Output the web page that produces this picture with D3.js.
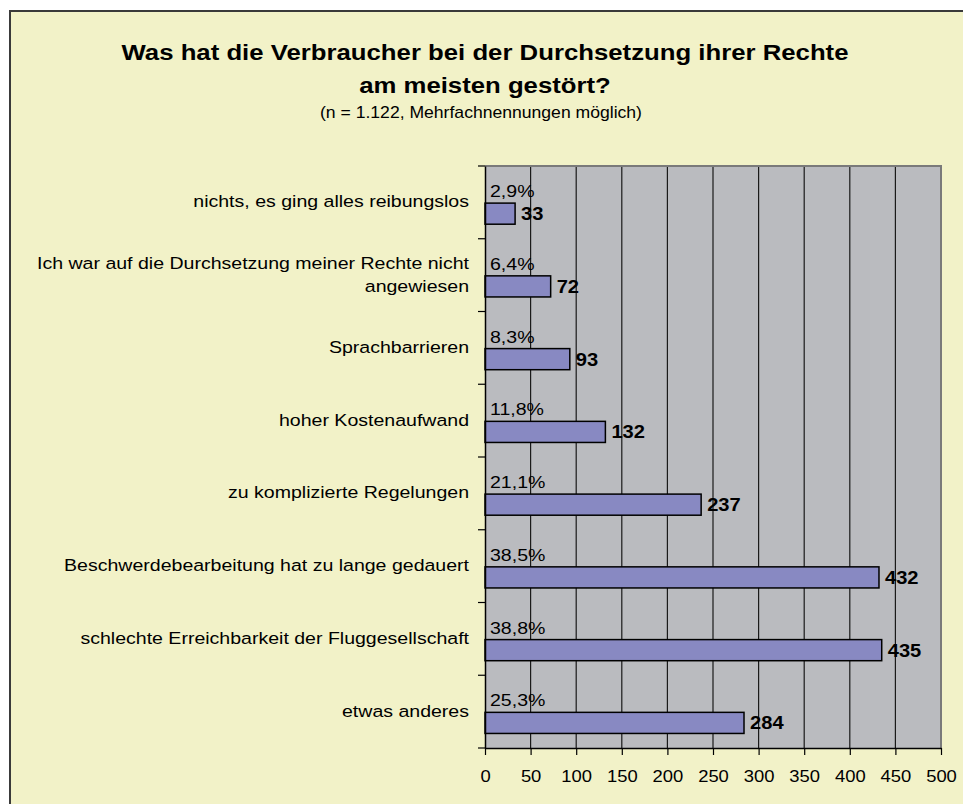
<!DOCTYPE html>
<html>
<head>
<meta charset="utf-8">
<script src="https://cdn.jsdelivr.net/npm/d3@7"></script>
<style>
  html, body { margin: 0; padding: 0; background: #ffffff; }
  svg text { font-family: "Liberation Sans", Arial, sans-serif; fill: #000; }
</style>
</head>
<body>
<svg id="chart" width="963" height="804"></svg>
<script>
// ---- data ----
const categories = [
  ["nichts, es ging alles reibungslos"],
  ["Ich war auf die Durchsetzung meiner Rechte nicht", "angewiesen"],
  ["Sprachbarrieren"],
  ["hoher Kostenaufwand"],
  ["zu komplizierte Regelungen"],
  ["Beschwerdebearbeitung hat zu lange gedauert"],
  ["schlechte Erreichbarkeit der Fluggesellschaft"],
  ["etwas anderes"]
];
const values = [33, 72, 93, 132, 237, 432, 435, 284];
const percents = ["2,9%", "6,4%", "8,3%", "11,8%", "21,1%", "38,5%", "38,8%", "25,3%"];
const xTicks = [0, 50, 100, 150, 200, 250, 300, 350, 400, 450, 500];
const titleLines = ["Was hat die Verbraucher bei der Durchsetzung ihrer Rechte", "am meisten gestört?"];
const subtitle = "(n = 1.122, Mehrfachnennungen möglich)";

// ---- layout ----
const SX = 1.15; // horizontal text stretch seen in reference
const svg = d3.select("#chart");
const plot = { left: 485, right: 941, top: 166, bottom: 748 };

// outer chart area
svg.append("rect").attr("x", 10).attr("y", 11).attr("width", 970).attr("height", 820)
  .attr("fill", "#F2F2C8").attr("stroke", "#3a3a3a").attr("stroke-width", 2);

function stretched(sel, x, y, sx = SX) {
  return sel.attr("transform", `translate(${x},${y}) scale(${sx},1)`);
}

// titles
titleLines.forEach((t, i) => {
  stretched(svg.append("text"), 485, 60 + i * 33, 1.17)
    .attr("text-anchor", "middle").attr("font-size", 22).attr("font-weight", "bold").text(t);
});
stretched(svg.append("text"), 481, 118, 1.1)
  .attr("text-anchor", "middle").attr("font-size", 16).text(subtitle);

// scales
const x = d3.scaleLinear().domain([0, 500]).range([plot.left, plot.right]);
const y = d3.scaleBand().domain(d3.range(categories.length)).range([plot.top, plot.bottom]);
const bw = y.bandwidth();

// plot background
svg.append("rect").attr("x", plot.left).attr("y", plot.top)
  .attr("width", plot.right - plot.left).attr("height", plot.bottom - plot.top)
  .attr("fill", "#BABBBF");

// gridlines
svg.append("g").selectAll("line").data(xTicks.slice(1, -1)).join("line")
  .attr("x1", d => x(d)).attr("x2", d => x(d))
  .attr("y1", plot.top).attr("y2", plot.bottom)
  .attr("stroke", "#1a1a1a").attr("stroke-width", 1.2);

// plot border top/right
svg.append("path")
  .attr("d", `M${plot.left},${plot.top}H${plot.right}V${plot.bottom}`)
  .attr("fill", "none").attr("stroke", "#7a7a7a").attr("stroke-width", 2);

// bars
const barTop = i => y(i) + bw * 0.51;
const barH = bw * 0.29;
svg.append("g").selectAll("rect").data(values).join("rect")
  .attr("x", x(0)).attr("y", (d, i) => barTop(i))
  .attr("width", d => x(d) - x(0)).attr("height", barH)
  .attr("fill", "#8889C2").attr("stroke", "#000").attr("stroke-width", 1.5);

// percent labels
percents.forEach((p, i) => {
  stretched(svg.append("text"), x(0) + 5, barTop(i) - 6)
    .attr("font-size", 17).text(p);
});
// value labels
values.forEach((v, i) => {
  stretched(svg.append("text"), x(v) + 6, barTop(i) + barH / 2 + 6.5)
    .attr("font-size", 17.5).attr("font-weight", "bold").text(v);
});

// y axis
const yAxis = d3.axisLeft(y).tickValues([]).tickSizeOuter(0);
svg.append("g").attr("transform", `translate(${plot.left},0)`).call(yAxis)
  .call(g => g.select(".domain").attr("stroke", "#000").attr("stroke-width", 1.5));
// y tick marks at band boundaries
svg.append("g").selectAll("line").data(d3.range(categories.length + 1)).join("line")
  .attr("x1", plot.left - 7).attr("x2", plot.left)
  .attr("y1", i => plot.top + i * bw).attr("y2", i => plot.top + i * bw)
  .attr("stroke", "#000").attr("stroke-width", 1.2);

// category labels
categories.forEach((lines, i) => {
  const mid = y(i) + bw / 2 + 5;
  lines.forEach((ln, j) => {
    const off = (j - (lines.length - 1) / 2) * 23;
    stretched(svg.append("text"), 469, mid + off)
      .attr("text-anchor", "end").attr("font-size", 17).text(ln);
  });
});

// x axis
const xAxis = d3.axisBottom(x).tickValues(xTicks).tickSize(7).tickSizeOuter(0).tickFormat(d3.format("d"));
const gx = svg.append("g").attr("transform", `translate(0,${plot.bottom})`).call(xAxis);
gx.select(".domain").attr("stroke", "#000").attr("stroke-width", 1.5);
gx.selectAll(".tick line").attr("stroke", "#000").attr("stroke-width", 1.2);
gx.selectAll(".tick text").each(function(d) {
  d3.select(this).attr("y", null).attr("dy", null)
    .attr("transform", `translate(0,34) scale(${SX},1)`)
    .attr("font-size", 16).attr("font-family", "Liberation Sans, Arial, sans-serif")
    .attr("fill", "#000");
});
</script>
</body>
</html>
